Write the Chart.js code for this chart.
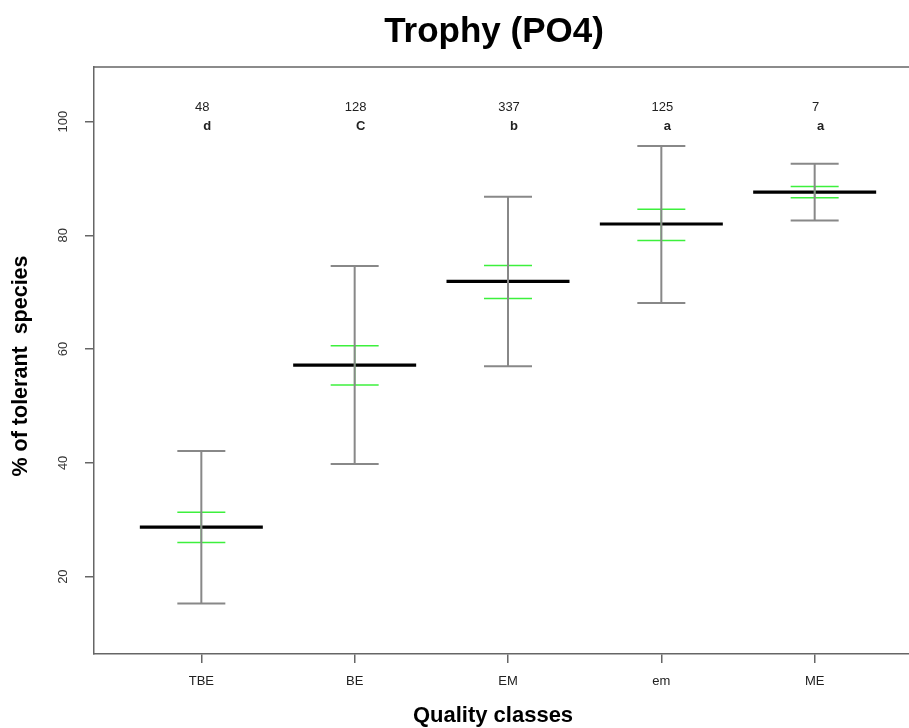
<!DOCTYPE html>
<html>
<head>
<meta charset="utf-8">
<script src="https://cdn.jsdelivr.net/npm/chart.js"></script>
<style>
  html, body { margin: 0; padding: 0; background: #fff; overflow: hidden; }
  #wrap { position: absolute; left: 0; top: 0; width: 988px; height: 728px; }
</style>
</head>
<body>
<div id="wrap"><canvas id="chart" width="988" height="728"></canvas></div>
<script>
// classes de qualite et valeurs
const categories = ['TBE', 'BE', 'EM', 'em', 'ME'];
const means = [28.7, 57.2, 71.9, 82.0, 87.6];
const whiskerLow = [15.3, 39.8, 57.0, 68.1, 82.6];
const whiskerHigh = [42.1, 74.6, 86.8, 95.7, 92.6];
const ciLow = [26.0, 53.7, 68.9, 79.1, 86.6];
const ciHigh = [31.3, 60.6, 74.7, 84.6, 88.6];
const counts = ['48', '128', '337', '125', '7'];
const groups = ['d', 'C', 'b', 'a', 'a'];
const yTicks = [20, 40, 60, 80, 100];

const GREY = '#888888';
const GREEN = 'rgb(60,240,60)';
const AXIS = '#666666';
const FONT = '"Liberation Sans", Arial, sans-serif';

// segments verticaux : bas, haut, coupure
function segments(low, high) {
  const out = [];
  low.forEach((v, i) => {
    out.push({ x: i + 1, y: v }, { x: i + 1, y: high[i] }, { x: i + 1, y: null });
  });
  return out;
}
const points = arr => arr.map((v, i) => ({ x: i + 1, y: v }));

// textes du graphique R (cadre, graduations y, titres d'axes, effectifs)
const rDecor = {
  id: 'rDecor',
  afterDraw(chart) {
    const { ctx, chartArea: a, scales: { x, y } } = chart;
    ctx.save();
    ctx.strokeStyle = AXIS;
    ctx.lineWidth = 1.5;
    ctx.beginPath();
    ctx.moveTo(a.left, a.top);
    ctx.lineTo(a.right, a.top);
    ctx.lineTo(a.right, a.bottom);
    ctx.stroke();

    // graduations y tournees comme dans R
    ctx.fillStyle = '#333';
    ctx.font = '13px ' + FONT;
    ctx.textAlign = 'center';
    ctx.textBaseline = 'middle';
    yTicks.forEach(v => {
      ctx.save();
      ctx.translate(63, y.getPixelForValue(v));
      ctx.rotate(-Math.PI / 2);
      ctx.fillText(String(v), 0, 0);
      ctx.restore();
    });

    // effectifs et lettres de groupes
    const y100 = y.getPixelForValue(100);
    categories.forEach((c, i) => {
      const px = x.getPixelForValue(i + 1);
      ctx.fillStyle = '#222';
      ctx.font = '13px ' + FONT;
      ctx.fillText(counts[i], px + 1, y100 - 14);
      ctx.font = 'bold 13px ' + FONT;
      ctx.fillText(groups[i], px + 6, y100 + 5);
    });

    // titres des axes
    ctx.fillStyle = '#000';
    ctx.font = 'bold 22px ' + FONT;
    ctx.fillText('Quality classes', 493, 716);
    ctx.save();
    ctx.translate(21, 366);
    ctx.rotate(-Math.PI / 2);
    ctx.font = 'bold 21.5px ' + FONT;
    ctx.fillText('% of tolerant  species', 0, 0);
    ctx.restore();
    ctx.restore();
  }
};

new Chart(document.getElementById('chart'), {
  type: 'scatter',
  data: {
    datasets: [
      {
        label: 'range',
        data: segments(whiskerLow, whiskerHigh),
        showLine: true,
        borderColor: GREY,
        borderWidth: 2,
        pointRadius: 0
      },
      {
        label: 'caps',
        data: points(whiskerLow).concat(points(whiskerHigh)),
        pointStyle: 'line',
        pointRadius: 24,
        borderColor: GREY,
        borderWidth: 2
      },
      {
        label: 'ci',
        data: segments(ciLow, ciHigh),
        showLine: true,
        borderColor: GREEN,
        borderWidth: 1.5,
        pointRadius: 0
      },
      {
        label: 'ci caps',
        data: points(ciLow).concat(points(ciHigh)),
        pointStyle: 'line',
        pointRadius: 24,
        borderColor: GREEN,
        borderWidth: 1.5
      },
      {
        label: 'mean',
        data: points(means),
        pointStyle: 'line',
        pointRadius: 61.5,
        borderColor: '#000',
        borderWidth: 3.2
      }
    ]
  },
  options: {
    responsive: false,
    animation: false,
    events: [],
    plugins: {
      legend: { display: false },
      tooltip: { enabled: false },
      title: {
        display: true,
        text: 'Trophy (PO4)',
        color: '#000',
        font: { family: FONT, size: 35, weight: 'bold', lineHeight: 1.2 },
        padding: { top: 11, bottom: 14 }
      }
    },
    scales: {
      x: {
        type: 'linear',
        min: 0.3,
        max: 5.7,
        afterBuildTicks: s => { s.ticks = categories.map((c, i) => ({ value: i + 1 })); },
        afterFit: s => { s.height = 74; },
        ticks: {
          autoSkip: false,
          maxRotation: 0,
          padding: 11,
          color: '#222',
          font: { family: FONT, size: 13 },
          callback: v => categories[v - 1]
        },
        grid: { drawOnChartArea: false, drawTicks: true, tickLength: 9, color: AXIS, lineWidth: 1.5 },
        border: { display: true, color: AXIS, width: 1.5 }
      },
      y: {
        min: 6.4,
        max: 109.6,
        afterBuildTicks: s => { s.ticks = yTicks.map(v => ({ value: v })); },
        afterFit: s => { s.width = 94; },
        ticks: { display: false },
        grid: { drawOnChartArea: false, drawTicks: true, tickLength: 9, color: AXIS, lineWidth: 1.5 },
        border: { display: true, color: AXIS, width: 1.5 }
      },
      // marge droite vide, le cadre R depasse la photo
      yRight: {
        position: 'right',
        min: 6.4,
        max: 109.6,
        afterFit: s => { s.width = 66; },
        ticks: { display: false },
        grid: { display: false },
        border: { display: false }
      }
    }
  },
  plugins: [rDecor]
});
</script>
</body>
</html>
